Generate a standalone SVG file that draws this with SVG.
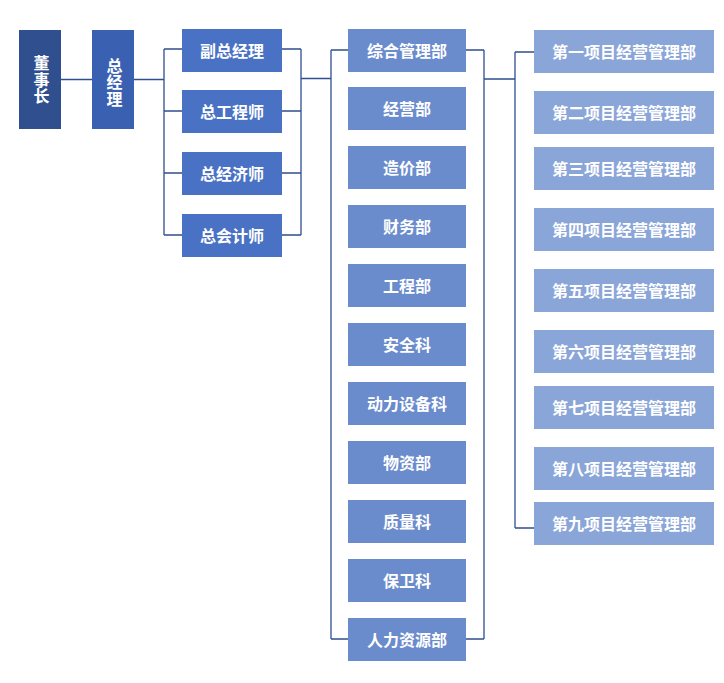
<svg xmlns="http://www.w3.org/2000/svg" width="724" height="683" viewBox="0 0 724 683">
<style>
text{font-family:"Noto Sans CJK SC","Noto Sans",sans-serif;font-size:16px;font-weight:bold;fill:#fff;text-anchor:middle;dominant-baseline:central}
.v{writing-mode:vertical-rl;letter-spacing:0.5px}
.c{fill:none;stroke:#2f4f8f;stroke-width:1.3}
.l0{fill:#2f4f8f}.l1{fill:#3a60b2}.l2{fill:#4a72c4}.l3{fill:#6a8bcc}.l4{fill:#8aa5d8}
</style>
<rect width="724" height="683" fill="#fff"/>
<g id="connectors" class="c">
<path d="M61 79.5H92M134 79.5H164M164 49V235M164 49H182M164 111H182M164 173H182M164 235H182"/>
<path d="M282 49H301M282 111H301M282 173H301M282 235H301M301 49V235M301 78.5H331"/>
<path d="M331 50V639M331 50H348M331 639H348M466 50H484M466 639H484M484 50V639M484 79H515"/>
<path d="M515 52V528M515 52H534M515 528H534"/>
</g>
<g id="n-dsz"><rect class="l0" x="19" y="30" width="42" height="99"/><text class="v" x="41.5" y="80">董事长</text></g>
<g id="n-zjl"><rect class="l1" x="92" y="30" width="42" height="99"/><text class="v" x="114.5" y="82.5">总经理</text></g>
<g id="n-fzjl"><rect class="l2" x="182" y="29" width="100" height="43"/><text x="232" y="50">副总经理</text></g>
<g id="n-zgcs"><rect class="l2" x="182" y="90" width="100" height="43"/><text x="232" y="111">总工程师</text></g>
<g id="n-zjjs"><rect class="l2" x="182" y="152" width="100" height="43"/><text x="232" y="173">总经济师</text></g>
<g id="n-zkjs"><rect class="l2" x="182" y="214" width="100" height="43"/><text x="232" y="235">总会计师</text></g>
<g id="n-zhglb"><rect class="l3" x="348" y="29" width="118" height="43"/><text x="407" y="50">综合管理部</text></g>
<g id="n-jyb"><rect class="l3" x="348" y="87" width="118" height="43"/><text x="407" y="108">经营部</text></g>
<g id="n-zjb"><rect class="l3" x="348" y="146" width="118" height="43"/><text x="407" y="167">造价部</text></g>
<g id="n-cwb"><rect class="l3" x="348" y="205" width="118" height="43"/><text x="407" y="226">财务部</text></g>
<g id="n-gcb"><rect class="l3" x="348" y="264" width="118" height="43"/><text x="407" y="285">工程部</text></g>
<g id="n-aqk"><rect class="l3" x="348" y="323" width="118" height="43"/><text x="407" y="344">安全科</text></g>
<g id="n-dlsbk"><rect class="l3" x="348" y="382" width="118" height="43"/><text x="407" y="403">动力设备科</text></g>
<g id="n-wzb"><rect class="l3" x="348" y="441" width="118" height="43"/><text x="407" y="462">物资部</text></g>
<g id="n-zlk"><rect class="l3" x="348" y="500" width="118" height="43"/><text x="407" y="521">质量科</text></g>
<g id="n-bwk"><rect class="l3" x="348" y="559" width="118" height="43"/><text x="407" y="580">保卫科</text></g>
<g id="n-rlzyb"><rect class="l3" x="348" y="618" width="118" height="43"/><text x="407" y="639">人力资源部</text></g>
<g id="n-p1"><rect class="l4" x="534" y="30" width="180" height="43"/><text x="624" y="51">第一项目经营管理部</text></g>
<g id="n-p2"><rect class="l4" x="534" y="91" width="180" height="43"/><text x="624" y="112">第二项目经营管理部</text></g>
<g id="n-p3"><rect class="l4" x="534" y="147" width="180" height="43"/><text x="624" y="168">第三项目经营管理部</text></g>
<g id="n-p4"><rect class="l4" x="534" y="208" width="180" height="43"/><text x="624" y="229">第四项目经营管理部</text></g>
<g id="n-p5"><rect class="l4" x="534" y="269" width="180" height="43"/><text x="624" y="290">第五项目经营管理部</text></g>
<g id="n-p6"><rect class="l4" x="534" y="330" width="180" height="43"/><text x="624" y="351">第六项目经营管理部</text></g>
<g id="n-p7"><rect class="l4" x="534" y="386" width="180" height="43"/><text x="624" y="407">第七项目经营管理部</text></g>
<g id="n-p8"><rect class="l4" x="534" y="447" width="180" height="43"/><text x="624" y="468">第八项目经营管理部</text></g>
<g id="n-p9"><rect class="l4" x="534" y="502" width="180" height="43"/><text x="624" y="523">第九项目经营管理部</text></g>
</svg>
